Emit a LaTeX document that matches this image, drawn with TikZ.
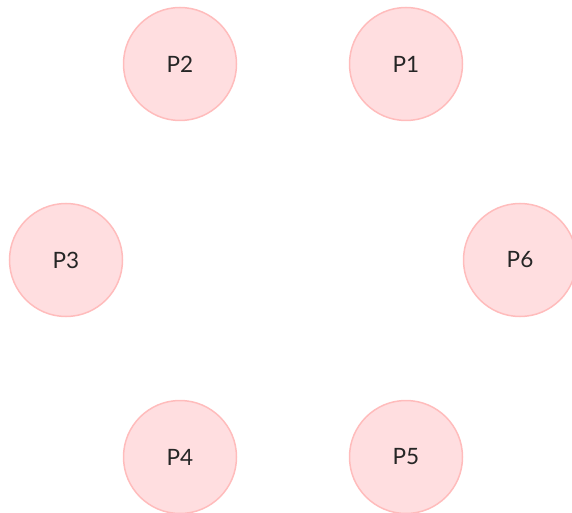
\documentclass[tikz,border=0pt]{standalone}
\usepackage{fontspec}
\setmainfont{Lato}
\definecolor{pfill}{RGB}{255,222,224}
\definecolor{pdraw}{RGB}{255,188,188}
\begin{document}
\begin{tikzpicture}[x=1pt,y=1pt,
  proc/.style={circle,draw=pdraw,fill=pfill,line width=1.5pt,minimum size=113pt,inner sep=0pt,font=\fontsize{22.5}{26}\selectfont,text=black!85}]
\useasboundingbox (0,0) rectangle (572,512);
\clip (0,0) rectangle (572,512);
\node[proc] (p1) at (406,448) {P1};
\node[proc] (p2) at (180,448) {P2};
\node[proc] (p3) at (66,252) {P3};
\node[proc] (p4) at (180,55) {P4};
\node[proc] (p5) at (406,55) {P5};
\node[proc] (p6) at (520,252) {P6};
\end{tikzpicture}
\end{document}
